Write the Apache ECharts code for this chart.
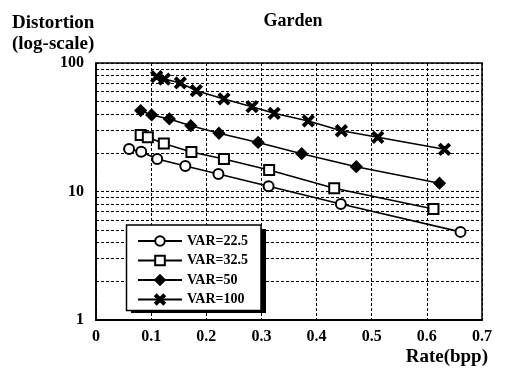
<!DOCTYPE html>
<html>
<head>
<meta charset="utf-8">
<script src="https://cdn.jsdelivr.net/npm/echarts@6/dist/echarts.min.js"></script>
<style>
    html, body { margin: 0; padding: 0; background: #fff; }
    #chart { width: 505px; height: 368px; }
</style>
</head>
<body>
<div id="chart"></div>
<script>
    // rate (bpp) / distortion per VAR curve
    var rate22 = [0.060, 0.082, 0.111, 0.162, 0.222, 0.313, 0.444, 0.661];
    var dist22 = [21.4, 20.4, 17.9, 15.8, 13.7, 11.0, 8.0, 4.85];

    var rate32 = [0.081, 0.094, 0.123, 0.173, 0.232, 0.314, 0.432, 0.612];
    var dist32 = [27.5, 26.4, 23.6, 20.3, 17.9, 14.7, 10.6, 7.3];

    var rate50 = [0.081, 0.101, 0.133, 0.172, 0.223, 0.294, 0.373, 0.472, 0.623];
    var dist50 = [42.6, 39.4, 36.7, 32.5, 28.4, 24.1, 19.7, 15.6, 11.6];

    var rate100 = [0.110, 0.124, 0.153, 0.182, 0.232, 0.283, 0.323, 0.385, 0.445, 0.511, 0.632];
    var dist100 = [78.2, 75.0, 70.0, 60.9, 52.5, 45.7, 40.6, 35.4, 29.7, 26.4, 21.3];

    var seriesNames = ['VAR=22.5', 'VAR=32.5', 'VAR=50', 'VAR=100'];
    // minor log grid lines (2..9, 20..90)
    var minorGrid = [2, 3, 4, 5, 6, 7, 8, 9, 20, 30, 40, 50, 60, 70, 80, 90];

    var font = '"Liberation Serif", "Times New Roman", serif';
    var crossPath = 'path://M0,1.5L1.5,0L5,3.5L8.5,0L10,1.5L6.5,5L10,8.5L8.5,10L5,6.5L1.5,10L0,8.5L3.5,5Z';

    function pairs(xs, ys){
        var out = [];
        for(var i = 0; i < xs.length; i++){
            out.push([xs[i], ys[i]]);
        }
        return out;
    }

    function makeSeries(name, xs, ys, symbol, size){
        return {
            name: name,
            type: 'line',
            data: pairs(xs, ys),
            symbol: symbol,
            symbolSize: size,
            showAllSymbol: true,
            lineStyle: { color: '#000', width: 1.6 },
            itemStyle: { color: '#000', borderColor: '#000', borderWidth: 1.6 },
            emphasis: { disabled: true },
            z: 3
        };
    }

    var series = [
        makeSeries(seriesNames[0], rate22, dist22, 'emptyCircle', 10),
        makeSeries(seriesNames[1], rate32, dist32, 'emptyRect', 10),
        makeSeries(seriesNames[2], rate50, dist50, 'diamond', 11),
        makeSeries(seriesNames[3], rate100, dist100, crossPath, 11)
    ];

    series[0].markLine = {
        silent: true,
        symbol: 'none',
        label: { show: false },
        lineStyle: { color: '#000', type: [3, 2], width: 1 },
        data: minorGrid.map(function(v){ return { yAxis: v }; }),
        z: 1
    };

    var myChart = echarts.init(document.getElementById('chart'));

    var option = {
        animation: false,
        backgroundColor: '#fff',
        title: [{
            text: 'Garden',
            left: 288, top: 7,
            textAlign: 'center',
            textStyle: { fontFamily: font, fontSize: 18, fontWeight: 'bold', color: '#000' }
        }, {
            text: 'Distortion\n(log-scale)',
            left: 7, top: 8,
            textStyle: { fontFamily: font, fontSize: 19, fontWeight: 'bold', color: '#000', lineHeight: 21 }
        }, {
            text: 'Rate(bpp)',
            right: 12, top: 343,
            textStyle: { fontFamily: font, fontSize: 19, fontWeight: 'bold', color: '#000' }
        }],
        // drop shadow of the legend box
        graphic: [{
            type: 'rect',
            left: 131, top: 229,
            shape: { width: 135, height: 84 },
            style: { fill: '#000' },
            z: 9
        }],
        legend: {
            data: seriesNames,
            orient: 'vertical',
            left: 126.5, top: 225,
            itemWidth: 44,
            itemHeight: 12,
            itemGap: 5.5,
            padding: [9, 13, 4, 10.5],
            backgroundColor: '#fff',
            borderColor: '#000',
            borderWidth: 1.5,
            textStyle: { fontFamily: font, fontSize: 14, fontWeight: 'bold', color: '#000', lineHeight: 12 },
            z: 10
        },
        grid: {
            left: 96, right: 23, top: 63, bottom: 48,
            show: true,
            borderColor: '#000',
            borderWidth: 1.5
        },
        xAxis: {
            type: 'value',
            min: 0, max: 0.7, interval: 0.1,
            axisLine: { show: true, lineStyle: { color: '#000', width: 2 } },
            axisTick: { show: false },
            axisLabel: { margin: 9, fontFamily: font, fontSize: 16, fontWeight: 'bold', color: '#000' },
            splitLine: { show: true, lineStyle: { color: '#000', type: [3, 2], width: 1 } }
        },
        yAxis: {
            type: 'log',
            logBase: 10,
            min: 1, max: 100,
            axisLine: { show: true, lineStyle: { color: '#000', width: 1.5 } },
            axisTick: { show: false },
            axisLabel: { margin: 12, fontFamily: font, fontSize: 16, fontWeight: 'bold', color: '#000' },
            splitLine: { show: true, lineStyle: { color: '#000', type: [3, 2], width: 1 } }
        },
        series: series
    };

    myChart.setOption(option);
</script>
</body>
</html>
